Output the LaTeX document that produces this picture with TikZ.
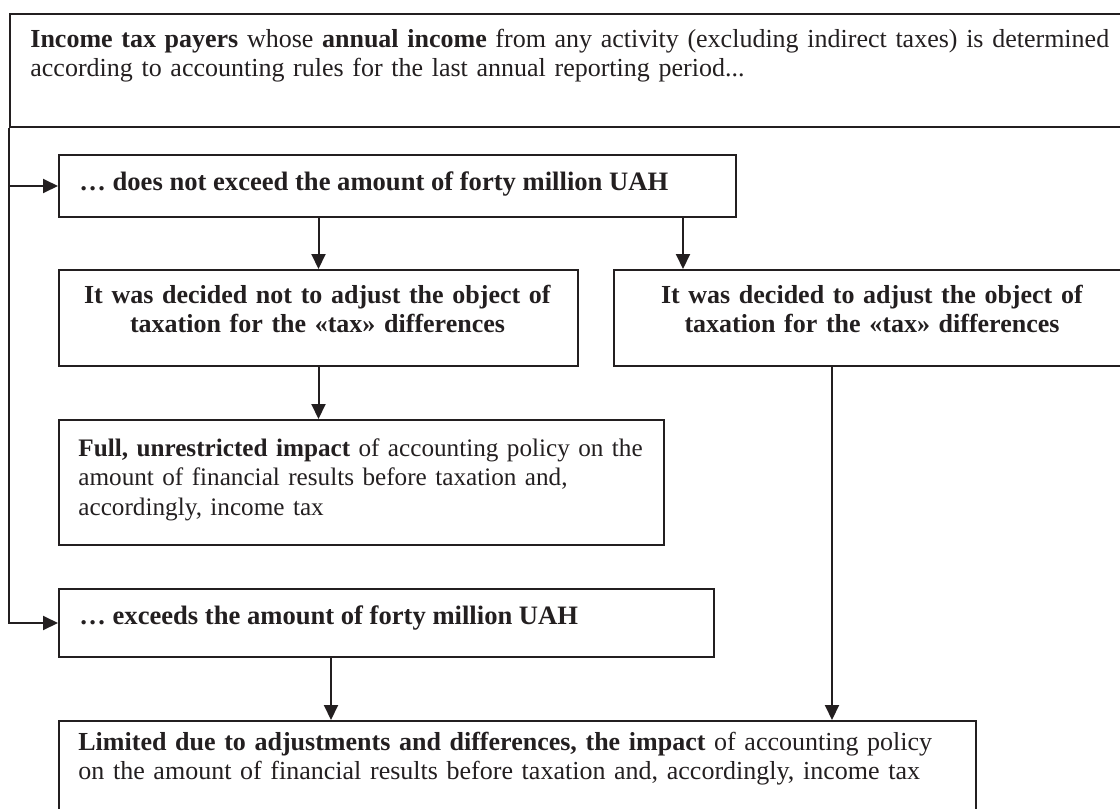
\documentclass[tikz,border=0pt]{standalone}
\usepackage{fontspec}
\setmainfont{Liberation Serif}
\usetikzlibrary{arrows.meta,calc}
\definecolor{ink}{HTML}{231F20}
\begin{document}
\begin{tikzpicture}[x=0.5pt,y=-0.5pt,
  box/.style={draw=ink, line width=1pt, inner sep=0pt, anchor=north west},
  txt/.style={inner sep=0pt, text=ink, font=\fontsize{13pt}{14.75pt}\selectfont},
  smalltxt/.style={inner sep=0pt, text=ink, font=\fontsize{12.6pt}{14.75pt}\selectfont},
  bigtxt/.style={inner sep=0pt, text=ink, font=\fontsize{13.3pt}{15pt}\selectfont},
  arr/.style={draw=ink, line width=1pt, -{Triangle[length=7.5pt,width=7pt]}}]
\useasboundingbox (0,0) rectangle (1120,809);
\clip (0,0) rectangle (1120,809);
% boxes
\node[box, minimum width=561pt, minimum height=56.5pt] (top) at (9,13) {};
\node[box, minimum width=338.5pt, minimum height=31pt] (b2) at (58,154) {};
\node[box, minimum width=259.5pt, minimum height=48pt] (b3) at (58,269) {};
\node[box, minimum width=259pt, minimum height=48pt] (b4) at (613,269) {};
\node[box, minimum width=302.5pt, minimum height=62.5pt] (b5) at (58,419) {};
\node[box, minimum width=327.5pt, minimum height=34pt] (b6) at (58,588) {};
\node[box, minimum width=458.5pt, minimum height=60pt] (b7) at (58,720) {};
% texts
\node[txt, anchor=base west, text width=555pt, align=left] (t1) at (30,47)
  {\textbf{Income tax payers} whose \textbf{annual income} from any activity (excluding indirect taxes) is determined\\according to accounting rules for the last annual reporting period...};
\node[bigtxt, anchor=base west] (t2) at (79,190) {\textbf{… does not exceed the amount of forty million UAH}};
\node[txt, anchor=base, text width=250pt, align=center] (t3) at (317.5,303)
  {\textbf{It was decided not to adjust the object of}\\\textbf{taxation for the «tax» differences}};
\node[txt, anchor=base, text width=250pt, align=center] (t4) at (872,303)
  {\textbf{It was decided to adjust the object of}\\\textbf{taxation for the «tax» differences}};
\node[smalltxt, anchor=base west, text width=295pt, align=left] (t5) at (78,456)
  {\textbf{Full, unrestricted impact} of accounting policy on the\\amount of financial results before taxation and,\\accordingly, income tax};
\node[bigtxt, anchor=base west] (t6) at (79,624) {\textbf{… exceeds the amount of forty million UAH}};
\node[txt, anchor=base west, text width=450pt, align=left] (t7) at (78,750)
  {\textbf{Limited due to adjustments and differences, the impact} of accounting policy\\on the amount of financial results before taxation and, accordingly, income tax};
% connectors
\draw[arr] (top.south west) |- (b2.west);
\draw[arr] (top.south west) |- (b6.west);
\draw[arr] (b2.south -| b3.north) -- (b3.north);
\coordinate (c4) at ([xshift=35pt]b4.north west);
\draw[arr] (c4 |- b2.south) -- (c4);
\draw[arr] (b3.south) -- (b3.south |- b5.north);
\coordinate (c47) at ([xshift=109.5pt]b4.south west);
\draw[arr] (c47) -- (c47 |- b7.north);
\coordinate (c67) at ([xshift=136.5pt]b6.south west);
\draw[arr] (c67) -- (c67 |- b7.north);
\end{tikzpicture}
\end{document}
